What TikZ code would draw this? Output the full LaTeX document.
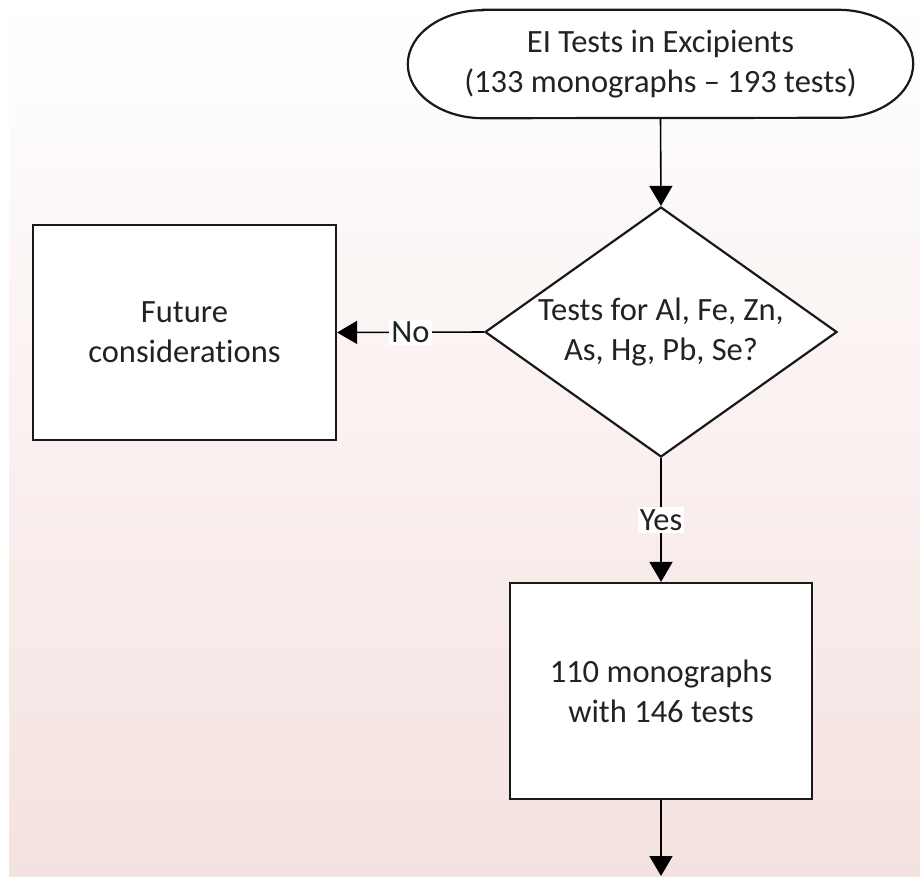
\documentclass[tikz,border=0pt]{standalone}
\usepackage{fontspec}
\setmainfont{Carlito}[Ligatures={NoCommon,NoContextual}]
\usetikzlibrary{shapes.geometric,arrows.meta}
\pgfdeclarelayer{shapes}
\pgfsetlayers{shapes,main}
\definecolor{bgpink}{HTML}{F4E2E0}
\definecolor{ink}{HTML}{222222}
\tikzset{
  every node/.style={font=\fontsize{32.5}{40}\selectfont, text=ink, align=center},
  boxstyle/.style={draw=black!90, line width=2.2pt, fill=white, rectangle, inner sep=0pt},
  decstyle/.style={draw=black!90, line width=2.2pt, fill=white, diamond, inner sep=0pt, aspect=1.408},
  flow/.style={draw=black, line width=1.6pt, -{Triangle[length=20pt,width=23pt]}},
  lbl/.style={fill=white, inner sep=2pt}
}
\begin{document}
\begin{tikzpicture}[x=1pt,y=-1pt]
  \useasboundingbox (0,0) rectangle (920,876);
  % page background
  \begin{pgfonlayer}{shapes}
    \fill[white] (0,0) rectangle (920,876);
    \shade[shading angle=-8, top color=white, bottom color=bgpink] (9,0) rectangle (920,876);
  \end{pgfonlayer}

  % terminator
  \node (start) [minimum width=505pt, minimum height=108pt, inner sep=0pt] at (660.5,64)
        {EI Tests in Excipients\\(133 monographs -- 193 tests)};
  \begin{pgfonlayer}{shapes}
    \draw[draw=black!90, line width=2.2pt, fill=white]
      ([xshift=75pt]start.north west) -- ([xshift=-75pt]start.north east)
      arc[start angle=90, end angle=-90, x radius=75pt, y radius=54pt]
      -- ([xshift=75pt]start.south west)
      arc[start angle=270, end angle=90, x radius=75pt, y radius=54pt] -- cycle;
  \end{pgfonlayer}

  % decision
  \node (dec) [decstyle, minimum width=352pt, minimum height=250pt] at (661,332)
        {Tests for Al, Fe, Zn,\\As, Hg, Pb, Se?};

  % outcomes
  \node (fut) [boxstyle, minimum width=303pt, minimum height=215pt] at (184.5,332.5)
        {Future\\considerations};
  \node (res) [boxstyle, minimum width=302pt, minimum height=216pt] at (661,691)
        {110 monographs\\with 146 tests};
  \coordinate (next) at (661,876);

  % connectors
  \draw[flow] (start.south) -- (dec.north);
  \draw[flow] (dec.west) -- node[lbl] {No} (fut.east);
  \draw[flow] (dec.south) -- node[lbl] {Yes} (res.north);
  \draw[flow] (res.south) -- (next);
\end{tikzpicture}
\end{document}
